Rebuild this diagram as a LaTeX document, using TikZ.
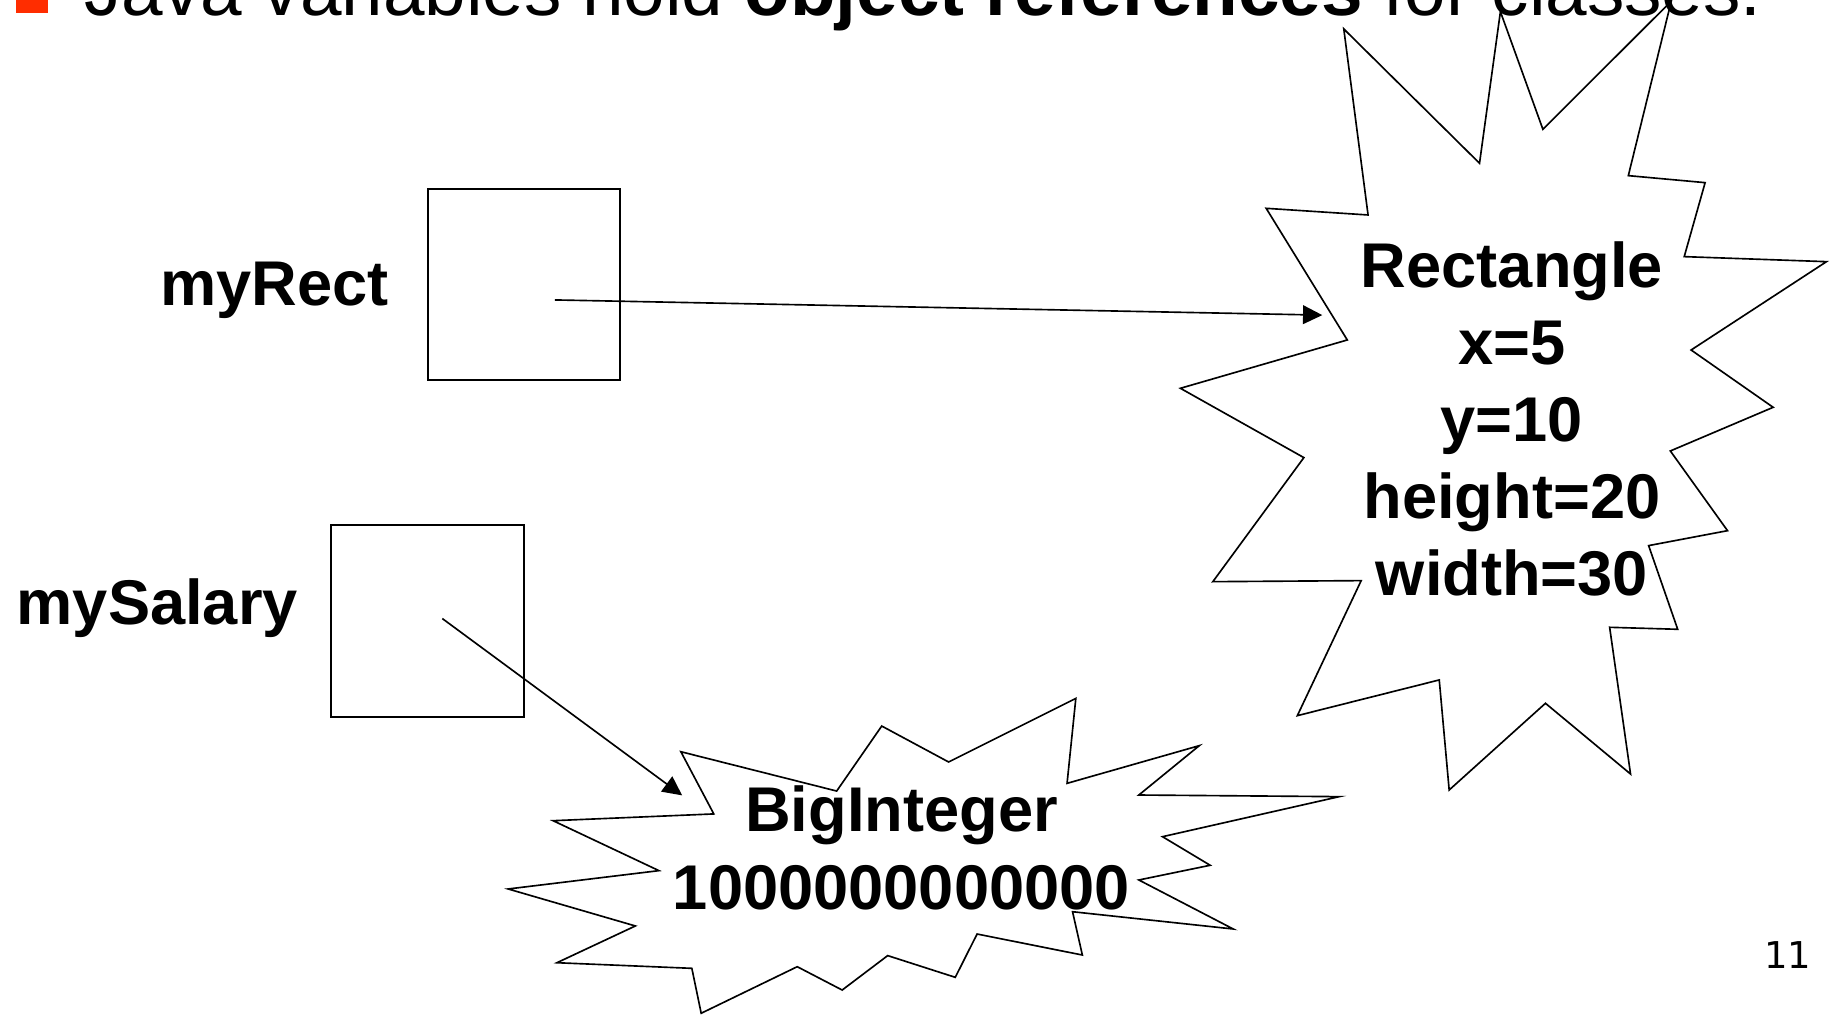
\documentclass[tikz,border=0pt]{standalone}
\usepackage{fontspec}
\setmainfont{Liberation Sans}
\newfontfamily\pagenumfont{DejaVu Sans}
\usetikzlibrary{arrows.meta}
\definecolor{bulletred}{RGB}{255,45,0}
\begin{document}
\begin{tikzpicture}[x=0.01cm,y=-0.01cm,
  varbox/.style={draw, line width=0.5pt, inner sep=0pt, anchor=north west},
  burst/.style={draw, line width=0.4pt, line join=miter},
  ptr/.style={line width=0.4pt, -{Triangle[length=0.165cm,width=0.16cm]}},
  lbl/.style={font=\fontsize{15.4}{18.5}\selectfont\bfseries, inner sep=0pt, anchor=base},
]
\clip (0,0) rectangle (1568,870);
\fill[white] (0,0) rectangle (1568,870);

% title line (clipped at top)
\node[fill=bulletred, minimum size=0.27cm, inner sep=0pt, anchor=south west] (bullet) at (13.4,12) {};
\node[anchor=base west, inner sep=0pt, font=\fontsize{18.2}{22}\selectfont] (title) at (71.5,13)
  {Java variables hold \textbf{object references} for classes.};

% variable boxes
\node[varbox, minimum width=1.64cm, minimum height=1.64cm] (rectbox) at (366,161) {};
\node[varbox, minimum width=1.65cm, minimum height=1.64cm] (salbox) at (283,449) {};
\node[lbl] (lrect) at (235.3,262) {myRect};
\node[lbl] (lsal) at (134.8,535) {mySalary};

% Rectangle object burst
\draw[burst] (1151.4,24.8) -- (1267.7,139.9) -- (1285.6,10) -- (1322,110.8) -- (1432,1)
  -- (1395.2,150.5) -- (1461,156.5) -- (1443.1,219.9) -- (1565,224.2) -- (1449,299.9)
  -- (1519.3,349) -- (1431.2,386.4) -- (1480.2,454.7) -- (1412.6,467.5) -- (1437.5,539.2)
  -- (1379.2,537.5) -- (1397.1,663.2) -- (1324.2,602.6) -- (1241.7,676.9) -- (1233.2,582.6)
  -- (1111.6,613.2) -- (1166.3,497.5) -- (1039.2,498.4) -- (1117.2,392.1) -- (1011.4,332.7)
  -- (1154.4,291.3) -- (1084.9,178.5) -- (1172.2,184.2) -- cycle;
\node[lbl] (r1) at (1295.5,246.5) {Rectangle};
\node[lbl] (r2) at (1295.5,312.5) {x=5};
\node[lbl] (r3) at (1295.5,378.5) {y=10};
\node[lbl] (r4) at (1295.5,444.5) {height=20};
\node[lbl] (r5) at (1295.5,510.5) {width=30};

% BigInteger object burst
\draw[burst] (583.4,644.1) -- (716.9,677.8) -- (755.5,622.1) -- (812.8,652.9) -- (921.8,598.4)
  -- (914.3,671.2) -- (1027.6,638.9) -- (975.8,681.2) -- (1147.5,682.6) -- (996.1,716.9)
  -- (1036.9,741.4) -- (975.8,754) -- (1056.7,796) -- (919,781.2) -- (927.4,818.3)
  -- (837.2,800.3) -- (818.5,837.4) -- (760.6,818.8) -- (721.6,848.3) -- (683.1,828.3)
  -- (600.8,868.2) -- (592.8,829.7) -- (477.2,824.9) -- (544.4,793.4) -- (435.4,761.7)
  -- (564.6,746) -- (473.9,703.2) -- (611.6,697.4) -- cycle;
\node[lbl] (b1) at (772.4,712.6) {BigInteger};
\node[lbl] (b2) at (772.4,779.1) {1000000000000};

% references
\coordinate (rectptr) at (475.5,257);
\coordinate (recthit) at (1133,270);
\coordinate (salptr) at (379,530);
\coordinate (salhit) at (584.5,681.5);
\draw[ptr] (rectptr) -- (recthit);
\draw[ptr] (salptr) -- (salhit);

% page number
\node[font=\pagenumfont\fontsize{9}{11}\selectfont, anchor=base west, inner sep=0pt] (pnum) at (1511,830) {11};
\end{tikzpicture}
\end{document}
